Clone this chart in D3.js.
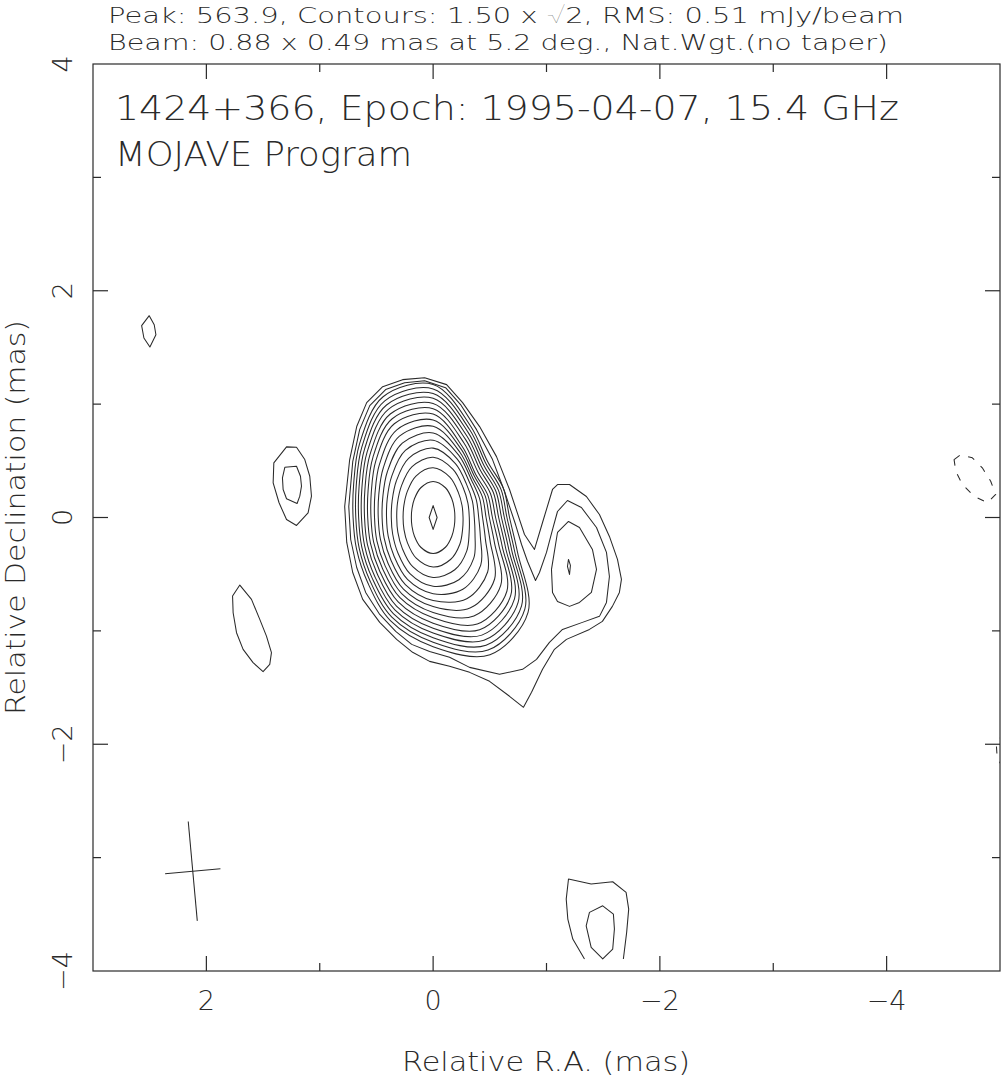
<!DOCTYPE html>
<html>
<head>
<meta charset="utf-8">
<script src="https://cdn.jsdelivr.net/npm/d3@7"></script>
<style>
  html, body { margin: 0; padding: 0; background: #ffffff; }
  svg text { font-family: "DejaVu Sans ExtraLight", "DejaVu Sans Light", "Lato", "DejaVu Sans", sans-serif; font-weight: 200; fill: #2a2a2a; }
</style>
</head>
<body>
<svg id="chart" width="1001" height="1079"></svg>
<script>
// ---------------- DATA (map units: mas) ----------------
const headerLines = [
  "Peak: 563.9, Contours: 1.50 x \u221A2, RMS: 0.51 mJy/beam",
  "Beam: 0.88 x 0.49 mas at 5.2 deg., Nat.Wgt.(no taper)"
];
const plotTitles = ["1424+366, Epoch: 1995-04-07, 15.4 GHz", "MOJAVE Program"];
const xAxisTitle = "Relative R.A. (mas)";
const yAxisTitle = "Relative Declination (mas)";

const xDomain = [3, -5];
const yDomain = [4, -4];
const xTickValues = [2, 1, 0, -1, -2, -3, -4];
const yTickValues = [3, 2, 1, 0, -1, -2, -3];
const xTickLabels = [[2, "2"], [0, "0"], [-2, "\u22122"], [-4, "\u22124"]];
const yTickLabels = [[4, "4"], [2, "2"], [0, "0"], [-2, "\u22122"], [-4, "\u22124"]];

// contour levels (mJy/beam): 1.50 x sqrt(2)^n
const contourLevels = [1.5, 2.12, 3.0, 4.24, 6.0, 8.49, 12.0, 16.97, 24.0, 33.94, 48.0, 67.88, 96.0, 135.76, 192.0, 271.53, 384.0, 543.06];

// core contours (levels n = 2..16): radius (mas) read in 16 directions, angle clockwise from north on the page
const coreAngles = [0, 22.5, 45, 67.5, 90, 112.5, 135, 157.5, 180, 202.5, 225, 247.5, 270, 292.5, 315, 337.5];
const coreRadii = [
  [1.174, 0.869, 0.686, 0.671, 0.674, 0.806, 1.184, 1.310, 1.139, 0.985, 0.815, 0.731, 0.706, 0.759, 0.918, 1.153],
  [1.134, 0.840, 0.663, 0.648, 0.651, 0.778, 1.144, 1.266, 1.100, 0.952, 0.788, 0.706, 0.682, 0.734, 0.887, 1.114],
  [1.093, 0.810, 0.639, 0.624, 0.628, 0.750, 1.103, 1.220, 1.060, 0.917, 0.759, 0.681, 0.657, 0.707, 0.855, 1.074],
  [1.051, 0.778, 0.614, 0.600, 0.603, 0.721, 1.060, 1.172, 1.019, 0.882, 0.730, 0.654, 0.632, 0.680, 0.822, 1.032],
  [1.006, 0.746, 0.589, 0.575, 0.578, 0.691, 1.015, 1.123, 0.976, 0.845, 0.699, 0.627, 0.605, 0.651, 0.787, 0.988],
  [0.960, 0.711, 0.562, 0.548, 0.551, 0.659, 0.969, 1.072, 0.932, 0.806, 0.667, 0.598, 0.577, 0.621, 0.751, 0.943],
  [0.912, 0.675, 0.533, 0.521, 0.523, 0.626, 0.920, 1.017, 0.884, 0.765, 0.633, 0.568, 0.548, 0.590, 0.713, 0.895],
  [0.860, 0.650, 0.515, 0.497, 0.496, 0.586, 0.844, 0.940, 0.837, 0.726, 0.600, 0.537, 0.517, 0.555, 0.668, 0.837],
  [0.805, 0.621, 0.494, 0.471, 0.467, 0.544, 0.767, 0.862, 0.786, 0.684, 0.565, 0.503, 0.484, 0.519, 0.621, 0.776],
  [0.746, 0.593, 0.475, 0.443, 0.436, 0.499, 0.680, 0.775, 0.732, 0.640, 0.528, 0.468, 0.450, 0.480, 0.571, 0.710],
  [0.682, 0.557, 0.449, 0.412, 0.402, 0.451, 0.594, 0.685, 0.672, 0.591, 0.486, 0.429, 0.411, 0.438, 0.516, 0.640],
  [0.612, 0.514, 0.416, 0.375, 0.363, 0.400, 0.507, 0.594, 0.606, 0.535, 0.440, 0.386, 0.369, 0.391, 0.458, 0.565],
  [0.532, 0.459, 0.374, 0.332, 0.319, 0.344, 0.419, 0.499, 0.529, 0.470, 0.385, 0.337, 0.321, 0.340, 0.395, 0.485],
  [0.439, 0.385, 0.314, 0.276, 0.264, 0.281, 0.333, 0.401, 0.437, 0.389, 0.319, 0.278, 0.265, 0.279, 0.323, 0.396],
  [0.318, 0.284, 0.233, 0.202, 0.192, 0.202, 0.233, 0.284, 0.318, 0.284, 0.233, 0.202, 0.192, 0.202, 0.233, 0.284]
];
const corePeak = [[0, 0.105], [-0.035, 0], [0, -0.105], [0.035, 0]];   // level n = 17

// outer contours enclosing core + jet (n = 0, 1)
const contourN0 = [[0.780,0.097],[0.736,0.511],[0.674,0.802],[0.586,1.013],[0.445,1.154],[0.269,1.216],[0.075,1.233],[-0.119,1.172],[-0.260,1.013],[-0.410,0.802],[-0.559,0.537],[-0.674,0.247],[-0.806,-0.150],[-0.894,-0.282],[-0.965,-0.044],[-1.053,0.247],[-1.097,0.291],[-1.203,0.291],[-1.352,0.185],[-1.467,0.026],[-1.555,-0.167],[-1.626,-0.370],[-1.661,-0.546],[-1.643,-0.661],[-1.581,-0.784],[-1.493,-0.916],[-1.379,-0.987],[-1.176,-1.075],[-1.070,-1.163],[-0.965,-1.339],[-0.868,-1.542],[-0.797,-1.674],[-0.674,-1.577],[-0.498,-1.445],[-0.322,-1.366],[-0.145,-1.313],[0.031,-1.269],[0.181,-1.189],[0.322,-1.075],[0.471,-0.925],[0.621,-0.722],[0.709,-0.485],[0.762,-0.220]];
const contourN1 = [[0.744,0.097],[0.709,0.493],[0.648,0.775],[0.559,0.987],[0.419,1.128],[0.251,1.189],[0.075,1.207],[-0.110,1.145],[-0.242,0.996],[-0.383,0.775],[-0.524,0.511],[-0.630,0.229],[-0.727,-0.062],[-0.780,-0.238],[-0.833,-0.388],[-0.903,-0.555],[-0.938,-0.485],[-1.000,-0.308],[-1.053,-0.106],[-1.097,0.053],[-1.185,0.150],[-1.308,0.088],[-1.441,-0.088],[-1.529,-0.308],[-1.555,-0.520],[-1.529,-0.749],[-1.467,-0.872],[-1.317,-0.925],[-1.141,-0.987],[-1.026,-1.101],[-0.912,-1.251],[-0.789,-1.339],[-0.586,-1.383],[-0.322,-1.322],[-0.145,-1.233],[0.031,-1.181],[0.189,-1.119],[0.330,-1.004],[0.471,-0.855],[0.595,-0.661],[0.674,-0.441],[0.727,-0.194]];
// jet knot inner contours (n = 2, 3)
const jetN2 = [[-1.194,-0.035],[-1.291,-0.088],[-1.405,-0.282],[-1.441,-0.458],[-1.396,-0.661],[-1.291,-0.749],[-1.203,-0.784],[-1.097,-0.740],[-1.053,-0.661],[-1.044,-0.458],[-1.097,-0.132]];
const jetN3 = [[-1.194,-0.370],[-1.211,-0.423],[-1.203,-0.502],[-1.185,-0.432]];

// isolated features
const blobNE = [[2.504,1.780],[2.460,1.700],[2.445,1.612],[2.498,1.504],[2.551,1.583],[2.571,1.692]];
const blobEOuter = [[1.293,0.623],[1.205,0.619],[1.132,0.511],[1.088,0.364],[1.073,0.188],[1.103,0.041],[1.205,-0.070],[1.293,-0.018],[1.359,0.130],[1.411,0.306],[1.405,0.482]];
const blobEInner = [[1.308,0.443],[1.205,0.452],[1.170,0.364],[1.161,0.276],[1.176,0.188],[1.200,0.123],[1.293,0.165],[1.323,0.247],[1.329,0.350]];
const blobSE = [[1.705,-0.596],[1.602,-0.722],[1.529,-0.899],[1.470,-1.046],[1.426,-1.192],[1.441,-1.295],[1.500,-1.359],[1.588,-1.280],[1.676,-1.163],[1.734,-1.016],[1.764,-0.840],[1.769,-0.693]];
const blobSOuter = [[-1.335,-3.894],[-1.232,-3.718],[-1.188,-3.542],[-1.174,-3.366],[-1.194,-3.189],[-1.394,-3.233],[-1.584,-3.213],[-1.702,-3.307],[-1.725,-3.454],[-1.707,-3.659],[-1.678,-3.894]];
const blobSInner = [[-1.496,-3.894],[-1.394,-3.791],[-1.350,-3.601],[-1.379,-3.483],[-1.496,-3.425],[-1.590,-3.498],[-1.599,-3.630],[-1.584,-3.806]];
// negative contours (-1.50 mJy/beam)
const negativeW = [[-4.595,0.511],[-4.654,0.555],[-4.756,0.526],[-4.844,0.438],[-4.918,0.320],[-4.962,0.203],[-4.888,0.130],[-4.771,0.188],[-4.668,0.291],[-4.610,0.408]];
const negativeSW = [[-5.03,-1.894],[-4.968,-2.009],[-4.975,-2.115],[-5.03,-2.220]];

// restoring beam
const beamCenter = [2.12, -3.12];
const beamMajor = 0.88, beamMinor = 0.49, beamPA = 5.2;

// ---------------- DRAWING ----------------
const svg = d3.select("#chart");
const x = d3.scaleLinear().domain(xDomain).range([93, 1000]);
const y = d3.scaleLinear().domain(yDomain).range([64, 971]);
const ink = "#2a2a2a";

svg.append("rect").attr("width", 1001).attr("height", 1079).attr("fill", "#fff");

svg.append("clipPath").attr("id", "frameClip")
  .append("rect")
  .attr("x", x(xDomain[0])).attr("y", y(yDomain[0]))
  .attr("width", x(xDomain[1]) - x(xDomain[0]))
  .attr("height", y(yDomain[1]) - y(yDomain[0]));

const g = svg.append("g").attr("clip-path", "url(#frameClip)")
  .attr("fill", "none").attr("stroke", ink).attr("stroke-width", 1.05)
  .attr("stroke-linejoin", "round");

const closedLinear = d3.line().x(d => x(d[0])).y(d => y(d[1])).curve(d3.curveLinearClosed);
const openLinear = d3.line().x(d => x(d[0])).y(d => y(d[1]));
const smoothClosed = d3.line().x(d => x(d[0])).y(d => y(d[1])).curve(d3.curveCatmullRomClosed.alpha(0.5));

// core rings
coreRadii.forEach(radii => {
  const pts = radii.map((r, i) => {
    const a = coreAngles[i] * Math.PI / 180;
    return [-r * Math.sin(a), r * Math.cos(a)];
  });
  g.append("path").attr("d", smoothClosed(pts));
});
g.append("path").attr("d", closedLinear(corePeak));

[contourN0, contourN1, jetN2, jetN3, blobNE, blobEOuter, blobEInner, blobSE, blobSInner]
  .forEach(c => g.append("path").attr("d", closedLinear(c)));
g.append("path").attr("d", openLinear(blobSOuter));

g.append("path").attr("d", closedLinear(negativeW)).attr("stroke-dasharray", "7,9");
g.append("path").attr("d", openLinear(negativeSW)).attr("stroke-dasharray", "7,9");

// beam cross
const pa = beamPA * Math.PI / 180;
const majorEnds = [[beamCenter[0] + beamMajor / 2 * Math.sin(pa), beamCenter[1] + beamMajor / 2 * Math.cos(pa)],
                   [beamCenter[0] - beamMajor / 2 * Math.sin(pa), beamCenter[1] - beamMajor / 2 * Math.cos(pa)]];
const minorEnds = [[beamCenter[0] + beamMinor / 2 * Math.cos(pa), beamCenter[1] - beamMinor / 2 * Math.sin(pa)],
                   [beamCenter[0] - beamMinor / 2 * Math.cos(pa), beamCenter[1] + beamMinor / 2 * Math.sin(pa)]];
g.append("path").attr("d", openLinear(majorEnds));
g.append("path").attr("d", openLinear(minorEnds));

// frame
const ax = svg.append("g").attr("stroke", ink).attr("stroke-width", 1.2).attr("fill", "none");
ax.append("rect")
  .attr("x", x(xDomain[0])).attr("y", y(yDomain[0]))
  .attr("width", x(xDomain[1]) - x(xDomain[0]))
  .attr("height", y(yDomain[1]) - y(yDomain[0]));

const tickLen = v => (v % 2 === 0 ? 15 : 8);
xTickValues.forEach(v => {
  ax.append("line").attr("x1", x(v)).attr("x2", x(v)).attr("y1", y(yDomain[1])).attr("y2", y(yDomain[1]) - tickLen(v));
  ax.append("line").attr("x1", x(v)).attr("x2", x(v)).attr("y1", y(yDomain[0])).attr("y2", y(yDomain[0]) + tickLen(v));
});
yTickValues.forEach(v => {
  ax.append("line").attr("y1", y(v)).attr("y2", y(v)).attr("x1", x(xDomain[0])).attr("x2", x(xDomain[0]) + tickLen(v));
  ax.append("line").attr("y1", y(v)).attr("y2", y(v)).attr("x1", x(xDomain[1])).attr("x2", x(xDomain[1]) - tickLen(v));
});

// tick labels
xTickLabels.forEach(([v, s]) => {
  svg.append("text").attr("x", x(v)).attr("y", 1010).attr("text-anchor", "middle")
    .attr("font-size", 27).text(s);
});
yTickLabels.forEach(([v, s]) => {
  svg.append("text").attr("transform", `translate(72,${y(v)}) rotate(-90)`)
    .attr("text-anchor", "middle").attr("font-size", 27).text(s);
});

// axis titles
svg.append("text").attr("x", 546).attr("y", 1071).attr("text-anchor", "middle")
  .attr("font-size", 27).attr("textLength", 288).attr("lengthAdjust", "spacingAndGlyphs").text(xAxisTitle);
svg.append("text").attr("transform", `translate(25,${y(0)}) rotate(-90)`).attr("text-anchor", "middle")
  .attr("font-size", 27).attr("textLength", 395).attr("lengthAdjust", "spacingAndGlyphs").text(yAxisTitle);

// header lines
const headerWidths = [796, 780];
headerLines.forEach((s, i) => {
  svg.append("text").attr("x", 108).attr("y", 23 + i * 27).attr("font-size", 22)
    .attr("textLength", headerWidths[i]).attr("lengthAdjust", "spacingAndGlyphs").text(s);
});
// in-plot titles
const titleWidths = [784, 297];
plotTitles.forEach((s, i) => {
  svg.append("text").attr("x", 115).attr("y", 120 + i * 46).attr("font-size", 34)
    .attr("textLength", titleWidths[i]).attr("lengthAdjust", "spacingAndGlyphs").text(s);
});
</script>
</body>
</html>
